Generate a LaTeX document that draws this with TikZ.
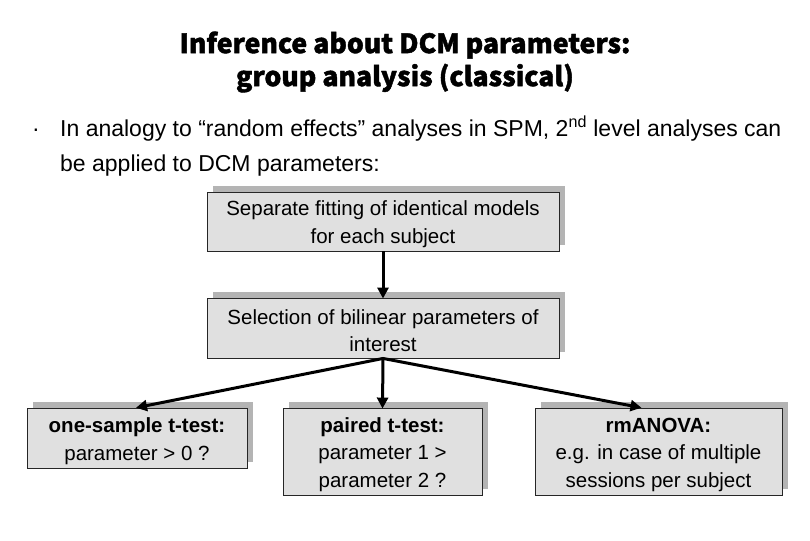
\documentclass[tikz,border=0pt]{standalone}
\usepackage{fontspec}
\setmainfont{Liberation Sans}
\newfontfamily\titlefont[BoldFeatures={FakeBold=1.6}]{Noto Sans CJK JP}
\usetikzlibrary{shadows,arrows.meta}
\definecolor{boxfill}{HTML}{E0E0E0}
\definecolor{shadowc}{HTML}{B4B4B4}
\tikzset{
  mybox/.style={draw=black!85, line width=0.9pt, fill=boxfill, inner sep=0pt,
    general shadow={shadow xshift=6pt, shadow yshift=6pt, fill=shadowc}},
  boxtext/.style={align=center, inner sep=0pt, font=\fontsize{20.5}{27.5}\selectfont},
  conn/.style={line width=3pt, -{Triangle[length=11pt,width=11pt]}, shorten >=-1pt},
  titletext/.style={font=\titlefont\bfseries\fontsize{26.6}{33}\selectfont, align=center},
  bodytext/.style={font=\fontsize{23}{24}\selectfont, anchor=base west, inner sep=0pt}
}
\begin{document}
\begin{tikzpicture}[x=1pt,y=1pt]
\useasboundingbox (0,0) rectangle (810,540);
\node[titletext] (title) at (405,478) {Inference about DCM parameters:\\group analysis (classical)};
\node[bodytext] (bul) at (32,403) {·};
\node[bodytext] (l1) at (60,403) {In analogy to “random effects” analyses in SPM, 2\textsuperscript{nd} level analyses can};
\node[bodytext] (l2) at (60,368) {be applied to DCM parameters:};
\node[mybox, minimum width=352pt, minimum height=59pt] (b1) at (383,318.5) {};
\node[mybox, minimum width=352pt, minimum height=60pt] (b2) at (383,212) {};
\node[mybox, minimum width=220pt, minimum height=60pt] (bA) at (137,102) {};
\node[mybox, minimum width=199pt, minimum height=87pt] (bB) at (382.5,88.5) {};
\node[mybox, minimum width=247pt, minimum height=87pt] (bC) at (658.5,88.5) {};
\node[boxtext] (t1) at ([yshift=-2.5pt]b1.center) {Separate fitting of identical models\\for each subject};
\node[boxtext] (t2) at ([yshift=-2.5pt]b2.center) {Selection of bilinear parameters of\\interest};
\node[boxtext] (tA) at ([yshift=-3pt]bA.center) {\textbf{one-sample t-test:}\\parameter > 0 ?};
\node[boxtext] (tB) at ([yshift=-3pt]bB.center) {\textbf{paired t-test:}\\parameter 1 >\\parameter 2 ?};
\node[boxtext] (tC) at ([yshift=-3pt]bC.center) {\textbf{rmANOVA:}\\e.g. in case of multiple\\sessions per subject};
\draw[conn] (b1.south) -- (b2.north);
\draw[conn] (b2.south) -- (bA.north);
\draw[conn] (b2.south) -- (bB.north);
\draw[conn] (b2.south) -- ([xshift=-18pt]bC.north);
\end{tikzpicture}
\end{document}
